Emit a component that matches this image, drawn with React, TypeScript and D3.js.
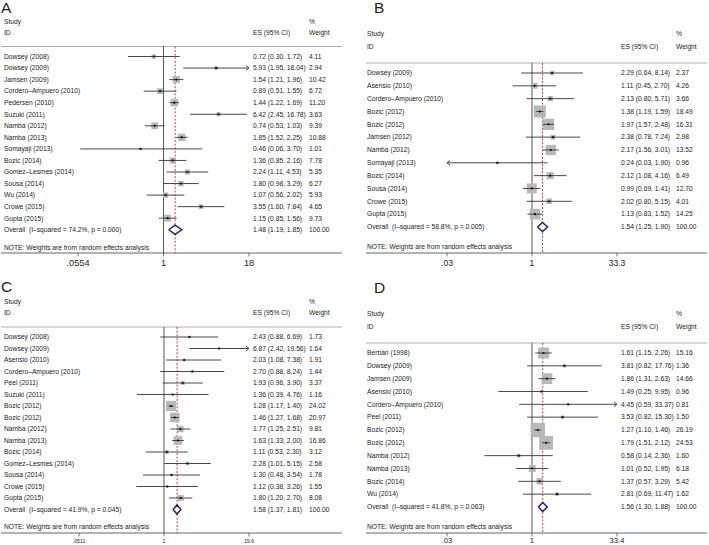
import React from "react";
import * as d3 from "d3";

// ---------- Panel A ----------
const aStudies = ["Dowsey (2008)", "Dowsey (2009)", "Jamsen (2009)", "Cordero–Ampuero (2010)", "Pedersen (2010)", "Suzuki (2011)", "Namba (2012)", "Namba (2013)", "Somayaji (2013)", "Bozic (2014)", "Gomez–Lesmes (2014)", "Sousa (2014)", "Wu (2014)", "Crowe (2015)", "Gupta (2015)"];
const aES = [0.72, 5.93, 1.54, 0.89, 1.44, 6.42, 0.74, 1.85, 0.46, 1.36, 2.24, 1.80, 1.07, 3.55, 1.15];
const aLow = [0.30, 1.95, 1.21, 0.51, 1.22, 2.45, 0.53, 1.52, 0.06, 0.85, 1.11, 0.98, 0.56, 1.60, 0.85];
const aHigh = [1.72, 18.04, 1.96, 1.55, 1.69, 16.78, 1.03, 2.25, 3.70, 2.16, 4.53, 3.29, 2.02, 7.84, 1.56];
const aWeight = [4.11, 2.94, 10.42, 6.72, 11.20, 3.63, 9.39, 10.88, 1.01, 7.78, 5.35, 6.27, 5.93, 4.65, 9.73];
const aOverall = [1.48, 1.19, 1.85];
const aHet = ["74.2%", "0.000"];
const aTicks = [0.0554, 1, 18];
const aTickLabels = [".0554", "1", "18"];

// ---------- Panel B ----------
const bStudies = ["Dowsey (2009)", "Asensio (2010)", "Cordero–Ampuero (2010)", "Bozic (2012)", "Bozic (2012)", "Jamsen (2012)", "Namba (2012)", "Somayaji (2013)", "Bozic (2014)", "Sousa (2014)", "Crowe (2015)", "Gupta (2015)"];
const bES = [2.29, 1.11, 2.13, 1.38, 1.97, 2.38, 2.17, 0.24, 2.12, 0.99, 2.02, 1.13];
const bLow = [0.64, 0.45, 0.80, 1.19, 1.57, 0.78, 1.56, 0.03, 1.08, 0.69, 0.80, 0.83];
const bHigh = [8.14, 2.70, 5.71, 1.59, 2.48, 7.24, 3.01, 1.90, 4.16, 1.41, 5.15, 1.52];
const bWeight = [2.37, 4.26, 3.66, 18.49, 16.31, 2.98, 13.52, 0.96, 6.49, 12.70, 4.01, 14.25];
const bOverall = [1.54, 1.25, 1.90];
const bHet = ["58.8%", "0.005"];
const bTicks = [0.03, 1, 33.3];
const bTickLabels = [".03", "1", "33.3"];

// ---------- Panel C ----------
const cStudies = ["Dowsey (2008)", "Dowsey (2009)", "Asensio (2010)", "Cordero–Ampuero (2010)", "Peel (2011)", "Suzuki (2011)", "Bozic (2012)", "Bozic (2012)", "Namba (2012)", "Namba (2013)", "Bozic (2014)", "Gomez–Lesmes (2014)", "Sousa (2014)", "Crowe (2015)", "Gupta (2015)"];
const cES = [2.43, 6.87, 2.03, 2.70, 1.93, 1.36, 1.28, 1.46, 1.77, 1.63, 1.11, 2.28, 1.30, 1.12, 1.80];
const cLow = [0.88, 2.42, 1.08, 0.88, 0.96, 0.39, 1.17, 1.27, 1.25, 1.33, 0.53, 1.01, 0.48, 0.38, 1.20];
const cHigh = [6.69, 19.56, 7.38, 8.24, 3.90, 4.76, 1.40, 1.68, 2.51, 2.00, 2.30, 5.15, 3.54, 3.26, 2.70];
const cWeight = [1.73, 1.64, 1.91, 1.44, 3.37, 1.16, 24.02, 20.97, 9.81, 16.86, 3.12, 2.58, 1.78, 1.55, 8.08];
const cOverall = [1.58, 1.37, 1.81];
const cHet = ["41.9%", "0.045"];
const cTicks = [0.0511, 1, 19.6];
const cTickLabels = [".0511", "1", "19.6"];

// ---------- Panel D ----------
const dStudies = ["Berbari (1998)", "Dowsey (2009)", "Jamsen (2009)", "Asensio (2010)", "Cordero–Ampuero (2010)", "Peel (2011)", "Bozic (2012)", "Bozic (2012)", "Namba (2012)", "Namba (2013)", "Bozic (2014)", "Wu (2014)"];
const dES = [1.61, 3.81, 1.86, 1.49, 4.45, 3.53, 1.27, 1.79, 0.58, 1.01, 1.37, 2.81];
const dLow = [1.15, 0.82, 1.31, 0.25, 0.59, 0.82, 1.10, 1.51, 0.14, 0.52, 0.57, 0.69];
const dHigh = [2.26, 17.76, 2.63, 9.95, 33.37, 15.30, 1.46, 2.12, 2.36, 1.95, 3.29, 11.47];
const dWeight = [15.16, 1.36, 14.66, 0.96, 0.81, 1.50, 26.19, 24.53, 1.60, 6.18, 5.42, 1.62];
const dOverall = [1.56, 1.30, 1.88];
const dHet = ["41.8%", "0.063"];
const dTicks = [0.03, 1, 33.4];
const dTickLabels = [".03", "1", "33.4"];

const FONT = "'Liberation Sans', Arial, Helvetica, sans-serif";
const TXT = "#222";
const FS = 6.7;

type PanelProps = {
  letter: string;
  letterX: number;
  letterY: number;
  x0: number;
  x1: number;
  textX: number;
  esX: number;
  wtX: number;
  studyY: number;
  idY: number;
  headerY: number;
  rowY0: number;
  rowStep: number;
  noteY: number;
  axisY: number;
  tickY: number;
  tickFont: number;
  xRange: [number, number];
  k: number;
  studies: string[];
  es: number[];
  low: number[];
  high: number[];
  weight: number[];
  overall: number[];
  het: string[];
  ticks: number[];
  tickLabels: string[];
};

function Panel(p: PanelProps) {
  const x = d3.scaleLog().domain([p.ticks[0], p.ticks[2]]).range(p.xRange);
  const dMin = p.ticks[0];
  const dMax = p.ticks[2];
  const n = p.studies.length;
  const yRow = (i: number) => p.rowY0 + i * p.rowStep;
  const yOv = yRow(n);
  const t = (y: number) => y + FS * 0.35;
  const diamond = d3.line<[number, number]>()([
    [x(p.overall[1]), yOv],
    [x(p.overall[0]), yOv - 4.5],
    [x(p.overall[2]), yOv],
    [x(p.overall[0]), yOv + 4.5],
    [x(p.overall[1]), yOv],
  ]);
  return (
    <g fontFamily={FONT} fill={TXT}>
      <text x={p.letterX} y={p.letterY} fontSize={15.5}>{p.letter}</text>
      <text x={p.textX} y={t(p.studyY)} fontSize={FS}>Study</text>
      <text x={p.textX} y={t(p.idY)} fontSize={FS}>ID</text>
      <text x={p.esX} y={t(p.idY)} fontSize={FS}>ES (95% CI)</text>
      <text x={p.wtX} y={t(p.studyY)} fontSize={FS}>%</text>
      <text x={p.wtX} y={t(p.idY)} fontSize={FS}>Weight</text>
      <line x1={p.x0} x2={p.x1} y1={p.headerY} y2={p.headerY} stroke="#999" strokeWidth={0.8} />
      <line x1={p.x0} x2={p.x1} y1={p.axisY} y2={p.axisY} stroke="#555" strokeWidth={0.9} />
      <line x1={x(1)} x2={x(1)} y1={p.headerY} y2={p.axisY} stroke="#444" strokeWidth={0.9} />
      <line x1={x(p.overall[0])} x2={x(p.overall[0])} y1={p.headerY} y2={p.axisY} stroke="#c8262b" strokeWidth={0.9} strokeDasharray="2,1.6" />
      {p.ticks.map((tv, i) => (
        <g key={"t" + i}>
          <line x1={x(tv)} x2={x(tv)} y1={p.axisY} y2={p.axisY + 3.5} stroke="#555" strokeWidth={0.8} />
          <text x={x(tv)} y={p.tickY + p.tickFont * 0.35} fontSize={p.tickFont} textAnchor="middle">{p.tickLabels[i]}</text>
        </g>
      ))}
      {p.studies.map((s, i) => {
        const y = yRow(i);
        const side = p.k * Math.sqrt(p.weight[i]);
        const lo = Math.max(p.low[i], dMin);
        const hi = Math.min(p.high[i], dMax);
        const arrowR = p.high[i] >= dMax * 0.995;
        const arrowL = p.low[i] <= dMin * 1.005;
        const xl = x(lo);
        const xr = x(hi);
        return (
          <g key={"r" + i}>
            <text x={p.textX} y={t(y)} fontSize={FS}>{s}</text>
            <text x={p.esX} y={t(y)} fontSize={FS}>{`${p.es[i].toFixed(2)} (${p.low[i].toFixed(2)}, ${p.high[i].toFixed(2)})`}</text>
            <text x={p.wtX} y={t(y)} fontSize={FS}>{p.weight[i].toFixed(2)}</text>
            <rect x={x(p.es[i]) - side / 2} y={y - side / 2} width={side} height={side} fill="#b8b8b8" />
            <line x1={xl} x2={xr} y1={y} y2={y} stroke="#333" strokeWidth={0.9} />
            {arrowR && <path d={`M${xr - 3},${y - 2.5}L${xr},${y}L${xr - 3},${y + 2.5}`} fill="none" stroke="#333" strokeWidth={0.9} />}
            {arrowL && <path d={`M${xl + 3},${y - 2.5}L${xl},${y}L${xl + 3},${y + 2.5}`} fill="none" stroke="#333" strokeWidth={0.9} />}
            <circle cx={x(p.es[i])} cy={y} r={1.1} fill="#111" />
          </g>
        );
      })}
      <text x={p.textX} y={t(yOv)} fontSize={FS} style={{ whiteSpace: "pre" }}>{`Overall  (I–squared = ${p.het[0]}, p = ${p.het[1]})`}</text>
      <text x={p.esX} y={t(yOv)} fontSize={FS}>{`${p.overall[0].toFixed(2)} (${p.overall[1].toFixed(2)}, ${p.overall[2].toFixed(2)})`}</text>
      <text x={p.wtX} y={t(yOv)} fontSize={FS}>100.00</text>
      <path d={diamond || ""} fill="#fff" stroke="#1f1f7a" strokeWidth={1.5} />
      <text x={p.textX} y={t(p.noteY)} fontSize={FS}>NOTE: Weights are from random effects analysis</text>
    </g>
  );
}

export default function App() {
  const left = { letterX: 1, x0: 1, x1: 342, textX: 4, esX: 253, wtX: 309, k: 2.2, tickFont: 9.2 };
  const right = { letterX: 374, x0: 366, x1: 707, textX: 367, esX: 621, wtX: 676, k: 2.8, tickFont: 8.6, xRange: [447, 617] as [number, number] };
  return (
    <svg width={709} height={545} style={{ position: "absolute", left: 0, top: 0, background: "#fff" }}>
      <rect width={709} height={545} fill="#fff" />
      <Panel {...left} letter="A" letterY={12.5} studyY={22} idY={33} headerY={46.5} rowY0={56.5} rowStep={11.55} noteY={247.3} axisY={253} tickY={263} xRange={[78, 249]}
        studies={aStudies} es={aES} low={aLow} high={aHigh} weight={aWeight} overall={aOverall} het={aHet} ticks={aTicks} tickLabels={aTickLabels} />
      <Panel {...right} letter="B" letterY={13} studyY={33.5} idY={47} headerY={63} rowY0={73} rowStep={12.83} noteY={246.5} axisY={253} tickY={263}
        studies={bStudies} es={bES} low={bLow} high={bHigh} weight={bWeight} overall={bOverall} het={bHet} ticks={bTicks} tickLabels={bTickLabels} />
      <Panel {...left} letter="C" letterY={291.5} studyY={302} idY={313} headerY={327} rowY0={337} rowStep={11.5} noteY={527} axisY={533} tickY={541} k={2.1} tickFont={5.2} xRange={[79, 249]}
        studies={cStudies} es={cES} low={cLow} high={cHigh} weight={cWeight} overall={cOverall} het={cHet} ticks={cTicks} tickLabels={cTickLabels} />
      <Panel {...right} letter="D" letterY={293} studyY={313.5} idY={327} headerY={343} rowY0={353} rowStep={12.83} noteY={526.5} axisY={533} tickY={540} tickFont={7.6}
        studies={dStudies} es={dES} low={dLow} high={dHigh} weight={dWeight} overall={dOverall} het={dHet} ticks={dTicks} tickLabels={dTickLabels} />
    </svg>
  );
}
